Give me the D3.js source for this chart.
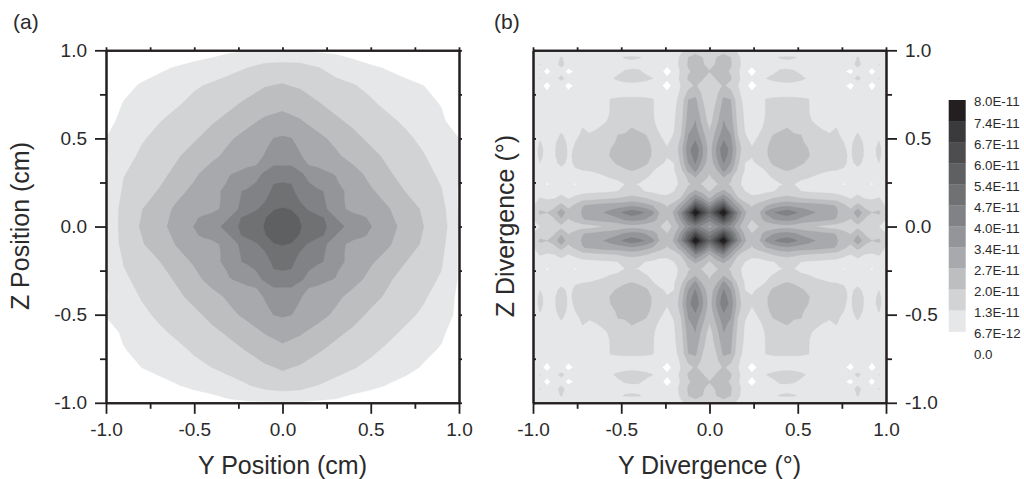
<!DOCTYPE html>
<html>
<head>
<meta charset="utf-8">
<script src="https://cdn.jsdelivr.net/npm/d3@7"></script>
<style>
  html, body { margin: 0; padding: 0; background: #fff; overflow: hidden; }
  text { font-family: "Liberation Sans", Arial, sans-serif; fill: #2b2a2b; }
</style>
</head>
<body>
<svg id="chart" width="1024" height="479"></svg>
<script>
// 图例刻度，从上到下
const legendLabels = ['8.0E-11', '7.4E-11', '6.7E-11', '6.0E-11', '5.4E-11', '4.7E-11', '4.0E-11',
  '3.4E-11', '2.7E-11', '2.0E-11', '1.3E-11', '6.7E-12', '0.0'];
const grayShades = ['#231f20', '#3a3a3c', '#4d4d4f', '#5f6062', '#707173', '#808285', '#939598',
  '#a7a9ac', '#bcbec0', '#d1d3d4', '#e6e7e8'];
const majorTicks = [-1, -0.5, 0, 0.5, 1];
const minorTicks = [-0.75, -0.25, 0.25, 0.75];

// (a) 位置分布，单位 6.7E-12，行 z=+1.0 到 -1.0，列 y=-1.0 到 +1.0，步长 0.1
const positionGrid = [
  [0, 0, 0, 0, 0, .3, .6, .85, .95, .9, .9, .95, .85, .8, .5, .1, 0, 0, 0, 0, 0],
  [0, .1, .5, .8, 1.1, 1.4, 1.55, 1.75, 2.0, 2.4, 2.5, 2.4, 2.05, 1.7, 1.5, 1.2, .9, .55, .3, .05, 0],
  [0, .7, 1.1, 1.4, 1.65, 1.9, 2.1, 2.35, 2.6, 2.95, 3.07, 2.85, 2.6, 2.25, 2.05, 1.8, 1.5, 1.3, 1.0, .5, 0],
  [.4, 1.05, 1.35, 1.65, 1.9, 2.2, 2.5, 2.8, 3.15, 3.5, 3.7, 3.6, 3.05, 2.7, 2.4, 2.1, 1.8, 1.55, 1.25, .95, .2],
  [.7, 1.25, 1.65, 1.95, 2.25, 2.55, 2.9, 3.25, 3.75, 4.15, 4.35, 4.05, 3.65, 3.15, 2.8, 2.45, 2.15, 1.85, 1.55, 1.15, .5],
  [1.0, 1.5, 1.9, 2.25, 2.55, 2.9, 3.35, 3.9, 4.3, 4.65, 5.0, 4.6, 4.2, 3.8, 3.25, 2.8, 2.45, 2.15, 1.8, 1.4, 1.0],
  [.9, 1.65, 2.15, 2.5, 2.9, 3.35, 3.8, 4.25, 4.6, 5.05, 5.65, 5.0, 4.5, 4.15, 3.7, 3.25, 2.8, 2.4, 2.05, 1.55, 1.0],
  [.9, 1.95, 2.35, 2.75, 3.2, 3.85, 4.4, 4.9, 5.55, 6.2, 6.5, 6.1, 5.45, 4.8, 4.3, 3.75, 3.1, 2.65, 2.25, 1.85, 1.0],
  [.9, 2.15, 2.65, 3.05, 3.75, 4.2, 4.7, 5.4, 6.25, 6.65, 7.3, 6.55, 6.15, 5.3, 4.6, 4.1, 3.65, 2.95, 2.55, 2.05, .9],
  [.9, 2.45, 2.95, 3.6, 4.15, 4.6, 4.9, 5.65, 6.55, 7.35, 8.0, 7.3, 6.45, 5.55, 4.8, 4.5, 4.05, 3.5, 2.85, 2.35, .9],
  [.9, 2.5, 3.07, 3.7, 4.35, 5.0, 5.65, 6.5, 7.3, 8.0, 8.6, 8.05, 7.3, 6.5, 5.65, 5.0, 4.35, 3.65, 3.0, 2.5, 1.0],
  [1.0, 2.35, 2.9, 3.5, 4.05, 4.5, 4.8, 5.55, 6.5, 7.3, 8.0, 7.3, 6.5, 5.6, 4.85, 4.5, 4.1, 3.5, 2.85, 2.3, .9],
  [.9, 2.05, 2.55, 2.95, 3.65, 4.1, 4.6, 5.3, 6.15, 6.6, 7.4, 6.7, 6.2, 5.35, 4.6, 4.1, 3.65, 3.0, 2.55, 2.1, .9],
  [1.0, 1.85, 2.25, 2.65, 3.1, 3.75, 4.3, 4.8, 5.45, 6.1, 6.5, 6.15, 5.5, 4.85, 4.3, 3.75, 3.1, 2.65, 2.3, 1.9, .9],
  [.9, 1.55, 2.05, 2.4, 2.8, 3.25, 3.7, 4.15, 4.5, 4.95, 5.7, 5.05, 4.55, 4.2, 3.7, 3.25, 2.85, 2.45, 2.1, 1.6, .8],
  [1.05, 1.4, 1.8, 2.15, 2.45, 2.8, 3.25, 3.8, 4.2, 4.55, 5.05, 4.65, 4.3, 3.85, 3.3, 2.85, 2.5, 2.2, 1.85, 1.4, .8],
  [.6, 1.15, 1.55, 1.85, 2.15, 2.45, 2.8, 3.15, 3.65, 4.05, 4.4, 4.1, 3.7, 3.2, 2.85, 2.5, 2.2, 1.85, 1.55, 1.2, .4],
  [.3, .95, 1.25, 1.55, 1.8, 2.1, 2.4, 2.7, 3.05, 3.5, 3.75, 3.55, 3.1, 2.75, 2.45, 2.15, 1.85, 1.55, 1.25, .9, .1],
  [0, .5, 1.0, 1.3, 1.55, 1.8, 2.0, 2.25, 2.55, 2.85, 3.1, 2.9, 2.6, 2.3, 2.05, 1.8, 1.55, 1.3, .9, .4, 0],
  [0, .05, .35, .65, .95, 1.3, 1.5, 1.7, 1.95, 2.35, 2.55, 2.4, 2.0, 1.75, 1.5, 1.3, .95, .65, .3, .05, 0],
  [0, 0, 0, 0, 0, .2, .5, .8, .9, .9, .9, .9, .85, .8, .5, .2, 0, 0, 0, 0, 0]
];

// (a) 中心区域细读，用于第 5 级以上，一个象限：行 z=0 到 0.6，列 y=0 到 0.6，步长 0.05
const positionCenter = [
  [8.7, 8.45, 8.05, 7.7, 7.3, 7.0, 6.45, 6.0, 5.65, 5.3, 5.03, 4.7, 4.4],
  [8.45, 8.3, 7.95, 7.6, 7.2, 6.9, 6.0, 5.6, 5.35, 5.15, 4.85, 4.55, 4.3],
  [8.05, 7.95, 7.4, 6.85, 6.5, 6.0, 5.6, 5.05, 4.7, 4.5, 4.35, 4.2, 4.05],
  [7.7, 7.6, 6.9, 6.4, 6.2, 5.95, 5.4, 5.0, 4.55, 4.3, 4.2, 4.05, 3.9],
  [7.3, 7.2, 6.6, 6.3, 6.15, 5.9, 5.45, 5.0, 4.5, 4.25, 4.1, 3.9, 3.7],
  [7.0, 6.95, 6.3, 6.0, 5.6, 5.3, 5.15, 4.7, 4.4, 4.15, 3.95, 3.7, 3.45],
  [6.45, 6.4, 6.15, 5.7, 5.35, 5.1, 4.95, 4.5, 4.25, 3.95, 3.7, 3.45, 3.2],
  [5.95, 5.95, 5.5, 4.95, 4.85, 4.7, 4.5, 4.3, 4.05, 3.75, 3.45, 3.2, 3.0],
  [5.65, 5.5, 5.05, 4.75, 4.55, 4.4, 4.25, 4.05, 3.8, 3.5, 3.25, 3.0, 2.8],
  [5.3, 5.2, 4.9, 4.5, 4.35, 4.2, 4.05, 3.85, 3.5, 3.3, 3.05, 2.85, 2.65],
  [5.1, 5.02, 4.65, 4.4, 4.2, 3.95, 3.75, 3.55, 3.3, 3.05, 2.85, 2.65, 2.5],
  [4.75, 4.6, 4.35, 4.2, 4.0, 3.7, 3.5, 3.3, 3.05, 2.85, 2.65, 2.5, 2.4],
  [4.4, 4.3, 4.1, 3.9, 3.7, 3.45, 3.25, 3.0, 2.8, 2.65, 2.5, 2.4, 2.2]
];

// (b) 发散角分布，四象限对称只记一个象限：行 z=0 到 1.0，列 y=0 到 1.0，步长 0.04
const divergenceQuadrant = [
  [4.6, 5.6, 6.4, 5.6, 4.3, 3.2, 2.6, 3.0, 3.2, 3.3, 3.5, 3.6, 3.5, 3.3, 3.1, 3.0, 2.8, 2.6, 2.5, 2.3, 2.2, 2.7, 2.2, 2.1, 2.0, 1.6],
  [6.3, 7.6, 9.5, 7.5, 5.2, 3.8, 3, 3.6, 4.4, 4.9, 5.2, 5.3, 5.1, 4.7, 4.5, 4.4, 4.25, 4.1, 3.95, 3.4, 2.9, 3.8, 2.9, 2.6, 2.5, 2.0],
  [8.0, 10, 12.5, 9, 6, 4.2, 3.2, 3.8, 5.2, 5.9, 6.3, 6.6, 6.2, 5.7, 5.3, 5.0, 4.6, 4.3, 4.1, 3.5, 3.4, 4.8, 3.4, 3.0, 3.2, 2.3],
  [5.6, 7.5, 9, 6, 4.6, 3.4, 2.9, 3.4, 3.9, 4.3, 4.6, 4.8, 4.6, 4.5, 4.45, 4.4, 4.25, 4.1, 3.95, 3.2, 2.6, 3.3, 2.7, 2.4, 2.5, 1.9],
  [3.9, 5, 6, 4.6, 3.1, 2.5, 2.2, 2.3, 2.6, 3.0, 3.2, 3.3, 3.2, 3.0, 2.9, 2.8, 2.7, 2.6, 2.5, 2.2, 1.95, 2.3, 1.95, 1.9, 2.05, 1.7],
  [2.9, 3.6, 4.2, 3.4, 2.5, 2.0, 1.75, 1.7, 1.85, 1.95, 2.2, 2.4, 2.2, 2.0, 1.9, 1.85, 1.8, 1.75, 1.7, 1.6, 1.5, 1.7, 1.5, 1.45, 1.6, 1.4],
  [2.4, 2.9, 3.2, 2.9, 2.2, 1.75, 1.4, 1.3, 1.4, 1.5, 1.95, 2.05, 2.0, 1.85, 1.7, 1.6, 1.5, 1.4, 1.3, .95, 1.1, 1.4, 1.2, .95, 1.2, 1.2],
  [2.9, 3.3, 4.0, 3.2, 2.3, 1.8, 1.5, 1.5, 1.75, 2.1, 2.3, 2.4, 2.3, 2.1, 2.05, 1.9, 1.75, 1.6, 1.5, 1.3, 1.25, 1.45, 1.3, 1.2, 1.3, 1.2],
  [3.1, 3.9, 5.3, 4.3, 2.8, 1.95, 1.6, 1.7, 2.05, 2.6, 2.9, 3.05, 2.9, 2.7, 2.4, 2.25, 2.15, 2.05, 2.0, 1.95, 1.4, 1.8, 1.4, 1.2, 1.3, 1.2],
  [3.3, 4.6, 6.05, 5.0, 3.2, 2.0, 1.85, 2.15, 2.6, 3.15, 3.3, 3.45, 3.35, 3.1, 2.85, 2.6, 2.4, 2.3, 2.2, 2.1, 1.85, 2.2, 1.8, 1.6, 2.0, 1.4],
  [3.4, 5.0, 6.5, 5.4, 3.4, 2.2, 2.05, 2.4, 2.85, 3.4, 3.7, 3.85, 3.7, 3.4, 3.05, 2.75, 2.5, 2.35, 2.25, 2.1, 1.9, 2.4, 1.9, 1.65, 2.2, 1.45],
  [3.5, 5.1, 6.8, 5.6, 3.6, 2.3, 2.05, 2.35, 2.9, 3.3, 3.6, 3.7, 3.6, 3.3, 3.0, 2.7, 2.45, 2.3, 2.2, 2.05, 1.9, 2.45, 1.9, 1.65, 2.25, 1.45],
  [3.3, 4.8, 6.1, 5.3, 3.3, 2.2, 1.9, 2.15, 2.8, 3.2, 3.4, 3.5, 3.35, 3.1, 2.8, 2.5, 2.3, 2.2, 2.1, 2.0, 1.85, 2.3, 1.85, 1.6, 2.05, 1.4],
  [3.05, 4.4, 5.6, 5.0, 3.0, 2.05, 1.75, 2.0, 2.5, 3.0, 3.2, 3.3, 3.1, 3.0, 2.5, 2.3, 2.15, 2.05, 2.1, 1.85, 1.7, 2.1, 1.65, 1.45, 1.7, 1.3],
  [2.9, 4.0, 5.2, 4.7, 2.85, 1.95, 1.6, 1.8, 2.2, 2.4, 2.8, 3.0, 2.6, 2.4, 2.2, 2.1, 1.95, 1.85, 2.0, 1.7, 1.5, 1.75, 1.5, 1.35, 1.4, 1.25],
  [2.6, 3.6, 5.0, 4.4, 2.7, 1.9, 1.45, 1.6, 2.1, 2.3, 2.4, 2.5, 2.35, 2.2, 2.1, 1.9, 1.7, 1.55, 1.5, 1.4, 1.3, 1.4, 1.3, 1.25, 1.25, 1.2],
  [2.5, 3.4, 4.7, 4.3, 2.6, 1.85, 1.4, 1.55, 2.05, 2.2, 2.3, 2.35, 2.3, 2.2, 2.05, 1.75, 1.5, 1.35, 1.3, 1.25, 1.25, 1.25, 1.25, 1.2, 1.2, 1.2],
  [2.4, 3.2, 4.4, 4.15, 2.5, 1.8, 1.35, 1.5, 2.05, 2.15, 2.2, 2.25, 2.2, 2.15, 2.05, 1.6, 1.4, 1.3, 1.25, 1.25, 1.25, 1.25, 1.25, 1.2, 1.2, 1.2],
  [2.3, 3.0, 4.2, 4.0, 2.4, 1.7, 1.35, 1.45, 2.05, 2.1, 2.1, 2.1, 2.1, 2.1, 2.05, 1.5, 1.35, 1.3, 1.25, 1.25, 1.25, 1.25, 1.25, 1.2, 1.2, 1.2],
  [2.3, 2.8, 3.6, 3.2, 2.2, 1.5, 1.2, 1.3, 1.6, 1.75, 1.8, 1.8, 1.8, 1.75, 1.6, 1.35, 1.3, 1.25, 1.2, 1.25, 1.3, 1.35, 1.2, 1.2, 1.3, 1.25],
  [2.2, 2.6, 3.1, 2.7, 2.05, 1.4, .5, 1.25, 1.4, 1.6, 1.7, 1.75, 1.7, 1.6, 1.4, 1.3, 1.25, 1.25, 1.25, 1.25, .5, 1.6, 1.55, .5, 1.4, 1.25],
  [2.3, 3.1, 3.5, 3.1, 2.25, 1.5, 1.25, 1.5, 2.0, 2.2, 2.3, 2.35, 2.3, 2.15, 1.9, 1.45, 1.3, 1.25, 1.25, 1.4, 1.8, 2.15, 1.8, 1.5, 2.05, 1.4],
  [3.05, 3.1, 3.2, 2.9, 2.15, 1.35, .5, 1.35, 1.6, 1.85, 2.1, 2.1, 2.05, 1.85, 1.6, 1.4, 1.3, 1.25, 1.25, 1.2, .5, 1.8, 1.6, .5, 1.6, 1.2],
  [2.7, 3.1, 3.4, 3.1, 2.3, 1.6, 1.3, 1.4, 1.5, 1.6, 1.75, 1.8, 1.75, 1.6, 1.5, 1.4, 1.3, 1.25, 1.25, 1.3, 1.8, 2.15, 1.8, 1.5, 2.05, 1.3],
  [2.5, 3.0, 3.5, 3.0, 2.2, 1.55, 1.3, 1.35, 1.5, 1.9, 2.05, 2.1, 2.05, 1.9, 1.5, 1.3, 1.25, 1.25, 1.25, 1.3, 1.65, 2.05, 1.7, 1.5, 1.7, 1.25],
  [1.9, 2.2, 2.4, 2.2, 1.85, 1.4, 1.25, 1.2, 1.2, 1.2, 1.2, 1.2, 1.2, 1.2, 1.2, 1.2, 1.2, 1.2, 1.2, 1.2, 1.2, 1.2, 1.2, 1.2, 1.2, 1.2]
];

const svg = d3.select('#chart');
const plotSize = { width: 353, height: 352.5 };
const allLevels = d3.range(1, grayShades.length + 1);
const shade = d3.scaleOrdinal().domain(allLevels).range(grayShades.slice().reverse());

// 象限展开成完整网格，第一行对应 z 最大处
function expandQuadrant(quadrant) {
  const last = quadrant.length - 1;
  const rows = d3.range(-last, last + 1);
  return rows.map(r => rows.map(c => quadrant[Math.abs(r)][Math.abs(c)]));
}

/**
 * 画一个等值填充图及其坐标轴
 * @param {Object} opts 面板配置
 */
function drawPanel(opts) {
  const xScale = d3.scaleLinear().domain([-1, 1]).range([opts.left, opts.left + plotSize.width]);
  const yScale = d3.scaleLinear().domain([-1, 1]).range([opts.top + plotSize.height, opts.top]);

  const clipId = 'clip-' + opts.name;
  svg.append('clipPath').attr('id', clipId).append('rect')
    .attr('x', xScale(-1)).attr('y', yScale(1))
    .attr('width', plotSize.width).attr('height', plotSize.height);
  const plot = svg.append('g').attr('clip-path', `url(#${clipId})`);

  opts.layers.forEach(layer => {
    const n = layer.grid.length;
    // d3.contours 把第 i 个值放在 i+0.5
    const colScale = d3.scaleLinear().domain([0.5, n - 0.5]).range([xScale(-layer.extent), xScale(layer.extent)]);
    const rowScale = d3.scaleLinear().domain([0.5, n - 0.5]).range([yScale(layer.extent), yScale(-layer.extent)]);
    const path = d3.geoPath(d3.geoTransform({
      point(x, y) { this.stream.point(colScale(x), rowScale(y)); }
    }));
    const contours = d3.contours().size([n, n]).thresholds(layer.levels)(layer.grid.flat());
    plot.append('g').selectAll('path').data(contours).join('path')
      .attr('d', path)
      .attr('fill', d => shade(d.value))
      .attr('stroke', d => shade(d.value))
      .attr('stroke-width', 0.3);
  });

  const styleAxis = g => {
    g.selectAll('.domain').attr('stroke', '#231f20').attr('stroke-width', 2);
    g.selectAll('.tick line').attr('stroke', '#231f20').attr('stroke-width', 1.8);
    g.selectAll('text').attr('font-size', 19).style('fill', '#2b2a2b');
  };

  // 每条边两层：大刻度和小刻度
  const addAxis = (maker, scale, transform, major, minor, pad, labelled) => {
    svg.append('g').attr('transform', transform)
      .call(maker(scale).tickValues(minorTicks).tickSize(minor).tickFormat('').tickSizeOuter(0))
      .call(styleAxis);
    svg.append('g').attr('transform', transform)
      .call(maker(scale).tickValues(majorTicks).tickSize(major).tickPadding(pad)
        .tickFormat(labelled ? d => d.toFixed(1) : '').tickSizeOuter(0))
      .call(styleAxis);
  };

  const bottom = yScale(-1), right = xScale(1), top = yScale(1), left = xScale(-1);
  addAxis(d3.axisBottom, xScale, `translate(0,${bottom})`, 11, 6, 9, true);
  addAxis(d3.axisTop, xScale, `translate(0,${top})`, 3, 3, 3, false);
  if (opts.labelSide === 'left') {
    addAxis(d3.axisLeft, yScale, `translate(${left},0)`, 11, 6, 8, true);
    addAxis(d3.axisRight, yScale, `translate(${right},0)`, 3, 3, 3, false);
  } else {
    addAxis(d3.axisRight, yScale, `translate(${right},0)`, 11, 6, 8, true);
    addAxis(d3.axisRight, yScale, `translate(${left},0)`, 3, 3, 3, false);
  }

  svg.append('text').attr('x', opts.tagX).attr('y', 29).attr('font-size', 21).text(opts.tag);

  svg.append('text')
    .attr('x', (left + right) / 2).attr('y', opts.xTitleY)
    .attr('text-anchor', 'middle').attr('font-size', 25)
    .text(opts.xTitle);

  svg.append('text')
    .attr('transform', `translate(${opts.yTitleX},${(top + bottom) / 2 - 0.5}) rotate(-90)`)
    .attr('text-anchor', 'middle').attr('font-size', 25)
    .text(opts.yTitle);
}

drawPanel({
  name: 'position', left: 106, top: 50.3, labelSide: 'left',
  layers: [
    { grid: positionGrid, extent: 1, levels: allLevels.slice(0, 4) },
    { grid: expandQuadrant(positionCenter), extent: 0.6, levels: allLevels.slice(4) }
  ],
  tag: '(a)', tagX: 13, xTitle: 'Y Position (cm)', xTitleY: 474,
  yTitle: 'Z Position (cm)', yTitleX: 29
});

drawPanel({
  name: 'divergence', left: 533, top: 50.3, labelSide: 'right',
  layers: [{ grid: expandQuadrant(divergenceQuadrant), extent: 1, levels: allLevels }],
  tag: '(b)', tagX: 494, xTitle: 'Y Divergence (°)', xTitleY: 474,
  yTitle: 'Z Divergence (°)', yTitleX: 514
});

// 图例
const legendY = d3.scalePoint().domain(legendLabels).range([101.7, 354.3]);
const legend = svg.append('g');
legend.selectAll('rect').data(grayShades).join('rect')
  .attr('x', 948.7).attr('width', 17).attr('height', legendY.step() + 0.3)
  .attr('y', (d, i) => legendY(legendLabels[i]) - 1.7)
  .attr('fill', d => d);
legend.selectAll('text').data(legendLabels).join('text')
  .attr('x', 974).attr('y', d => legendY(d))
  .attr('dy', '0.36em').attr('font-size', 13.3)
  .text(d => d);
</script>
</body>
</html>
